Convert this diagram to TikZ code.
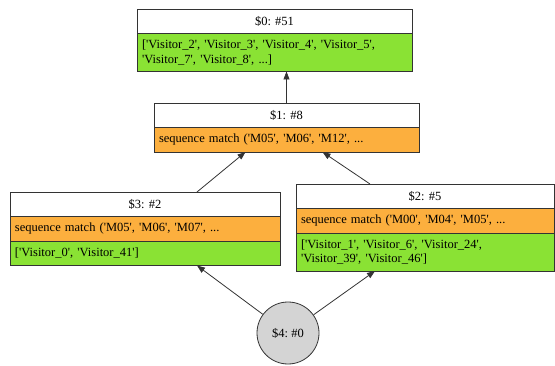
\documentclass[tikz,border=0pt]{standalone}
\usepackage{fontspec}
\setmainfont{Liberation Serif}
\usepackage{tikz}
\usetikzlibrary{arrows.meta, positioning, shapes.geometric}

\definecolor{leafgreen}{HTML}{8AE234}
\definecolor{rulebrown}{HTML}{FCAF3E}
\definecolor{edgegray}{HTML}{333333}
\newcommand{\sq}{\textquotesingle}
\frenchspacing

\begin{document}
\begin{tikzpicture}[
    font=\fontsize{12.5}{14.5}\selectfont,
    row/.style={
        draw=edgegray,
        line width=0.8pt,
        inner xsep=5pt,
        inner ysep=2pt,
        minimum height=24.5pt,
        outer sep=0pt
    },
    hdr/.style={row, fill=white, align=center},
    rule/.style={row, fill=rulebrown, align=left},
    members/.style={row, fill=leafgreen, align=left},
    arrow/.style={-{Triangle[length=8pt,width=6pt]}, line width=0.8pt, draw=edgegray}
]
\useasboundingbox (0,0) rectangle (555pt,365pt);

% --- Node $0
\node[hdr, text width=265pt, anchor=north west] (n0h) at (137pt,356pt) {\$0: \#51};
\node[members, text width=265pt, minimum height=38pt, below=0pt of n0h] (n0b)
    {[\sq Visitor\_2\sq, \sq Visitor\_3\sq, \sq Visitor\_4\sq, \sq Visitor\_5\sq,\\\sq Visitor\_7\sq, \sq Visitor\_8\sq, ...]};

% --- Node $1
\node[hdr, text width=255pt, anchor=north west] (n1h) at (154pt,262pt) {\$1: \#8};
\node[rule, text width=255pt, below=0pt of n1h] (n1b) {sequence match (\sq M05\sq, \sq M06\sq, \sq M12\sq, ...};

% --- Node $3
\node[hdr, text width=260pt, anchor=north west] (n3h) at (10pt,173pt) {\$3: \#2};
\node[rule, text width=260pt, below=0pt of n3h] (n3r) {sequence match (\sq M05\sq, \sq M06\sq, \sq M07\sq, ...};
\node[members, text width=260pt, below=0pt of n3r] (n3b) {[\sq Visitor\_0\sq, \sq Visitor\_41\sq]};

% --- Node $2
\node[hdr, text width=248pt, anchor=north west] (n2h) at (296pt,181pt) {\$2: \#5};
\node[rule, text width=248pt, below=0pt of n2h] (n2r) {sequence match (\sq M00\sq, \sq M04\sq, \sq M05\sq, ...};
\node[members, text width=248pt, minimum height=38pt, below=0pt of n2r] (n2b)
    {[\sq Visitor\_1\sq, \sq Visitor\_6\sq, \sq Visitor\_24\sq,\\\sq Visitor\_39\sq, \sq Visitor\_46\sq]};

% --- Node $4
\node[circle, draw=edgegray, line width=0.8pt, fill=black!17, minimum size=62pt] (n4) at (288pt,32pt) {\$4: \#0};

% --- Arrows
\draw[arrow] (n4) -- ([xshift=52pt]n3b.south);
\draw[arrow] (n4) -- ([xshift=-50pt]n2b.south);
\draw[arrow] ([xshift=52pt]n3h.north) -- ([xshift=-41pt]n1b.south);
\draw[arrow] ([xshift=-55pt]n2h.north) -- ([xshift=36pt]n1b.south);
\draw[arrow] (n1h.north) -- ([xshift=12pt]n0b.south);

\end{tikzpicture}
\end{document}
